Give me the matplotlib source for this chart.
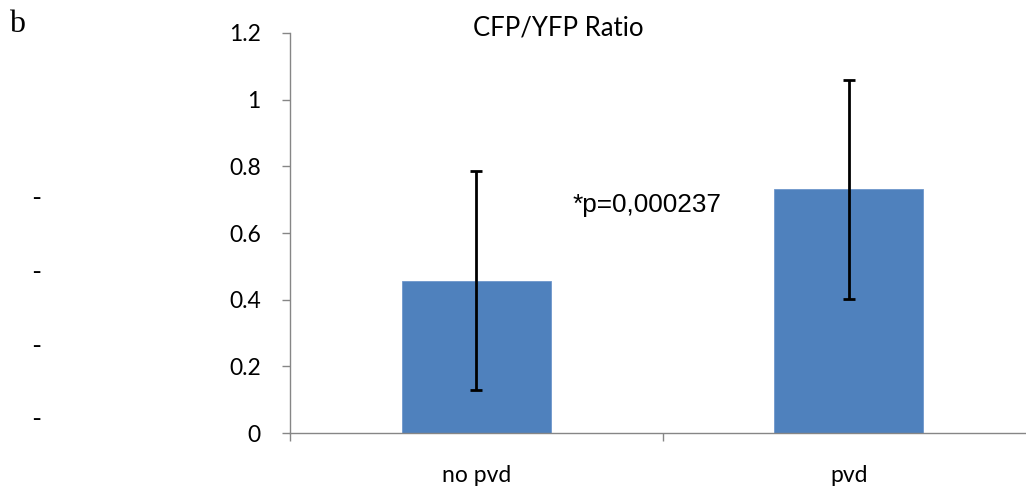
import matplotlib
matplotlib.use("Agg")
import matplotlib.pyplot as plt

categories = ["no pvd", "pvd"]
values = [0.457, 0.731]
errors = [0.329, 0.329]
yticks = [0, 0.2, 0.4, 0.6, 0.8, 1.0, 1.2]
ytick_labels = ["0", "0.2", "0.4", "0.6", "0.8", "1", "1.2"]
title = "CFP/YFP Ratio"
annotation = "*p=0,000237"
panel_label = "b"

W, H = 1026, 491
fig = plt.figure(figsize=(W / 100, H / 100), dpi=100)
ax = fig.add_axes([290 / W, 58 / H, (1035 - 290) / W, 400 / H])

x = list(range(len(categories)))
ax.bar(x, values, width=0.4, color="#4F81BD", edgecolor="#6F97CC", linewidth=0.6, zorder=2)
ax.errorbar(x, values, yerr=errors, fmt="none", ecolor="black", elinewidth=2.0,
            capsize=4.5, capthick=2.0, zorder=3)

ax.set_xlim(-0.5, 1.5)
ax.set_ylim(0, 1.2)
ax.set_yticks(yticks)
ax.set_yticklabels(ytick_labels, fontfamily="Lato", fontsize=16.5)
ax.set_xticks([-0.5, 0.5, 1.5])
ax.set_xticklabels([])
ax.set_xticks(x, minor=True)
ax.set_xticklabels(categories, minor=True, fontfamily="Lato", fontsize=16.5)
ax.tick_params(axis="x", which="minor", length=0, pad=23)
ax.tick_params(axis="x", which="major", length=6, width=1, color="#868686", direction="out")
ax.tick_params(axis="y", length=6, width=1, color="#868686", direction="out", pad=15)

for s in ["top", "right"]:
    ax.spines[s].set_visible(False)
for s in ["left", "bottom"]:
    ax.spines[s].set_color("#868686")
    ax.spines[s].set_linewidth(1)

fig.text(558 / W, 1 - 28 / H, title, ha="center", va="center", fontfamily="Lato", fontsize=18.5)
fig.text(573 / W, 1 - 205 / H, annotation, ha="left", va="center",
         fontfamily="Liberation Sans", fontsize=18.8)
fig.text(17 / W, 1 - 24 / H, panel_label, ha="center", va="center",
         fontfamily="Liberation Serif", fontsize=23)
for yy in [198, 272, 346, 419]:
    fig.text(36 / W, 1 - yy / H, "-", ha="center", va="center",
             fontfamily="Liberation Serif", fontsize=18)

fig.savefig("out.png", dpi=100)
